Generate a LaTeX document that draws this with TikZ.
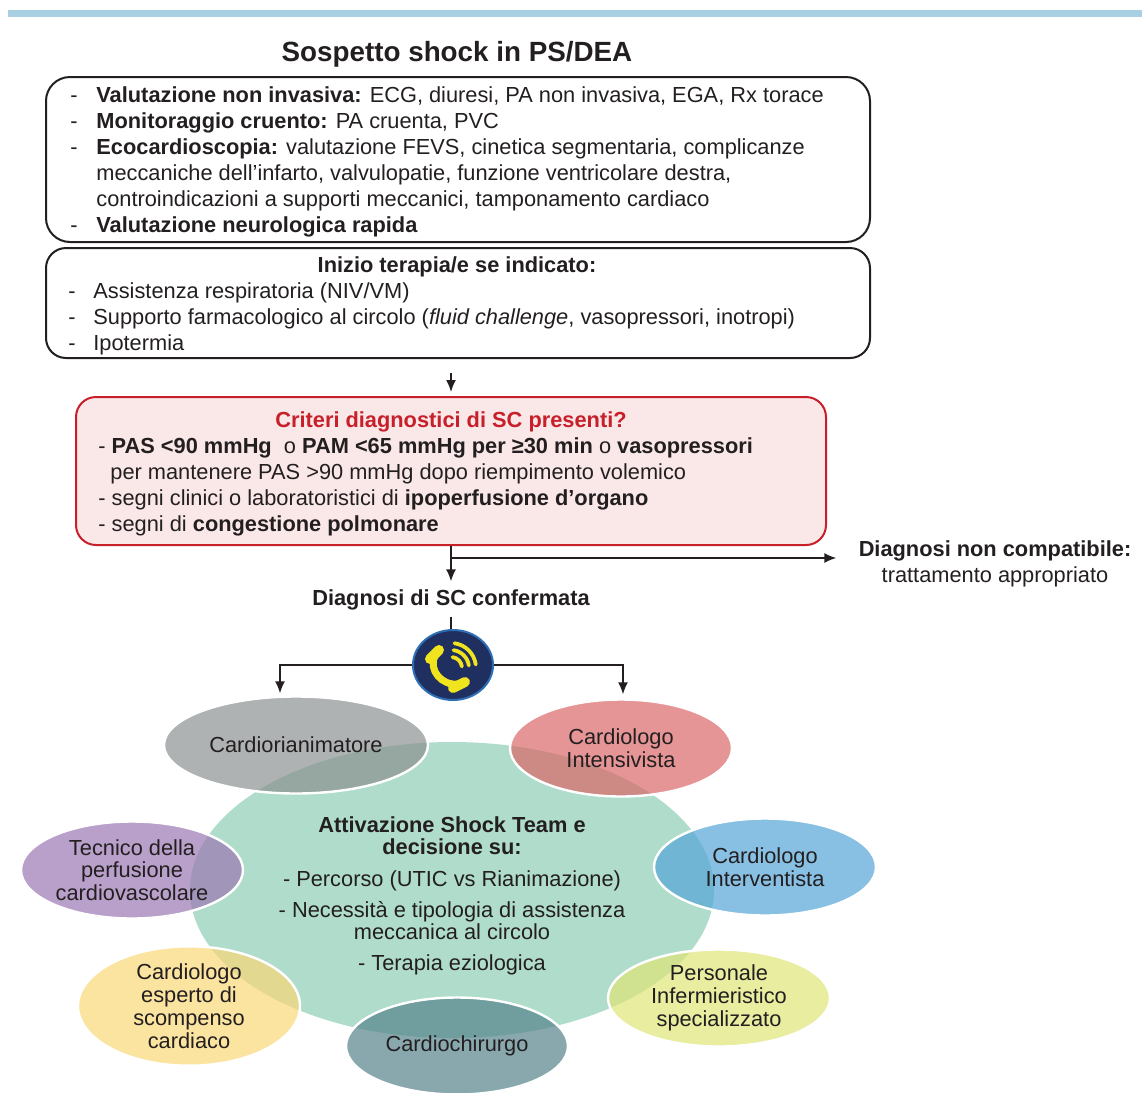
\documentclass[tikz,border=0pt]{standalone}
\usepackage{fontspec}
\setmainfont{Liberation Sans}
\usetikzlibrary{arrows,arrows.meta,shapes.geometric}
\definecolor{ink}{RGB}{35,31,32}
\definecolor{topbar}{RGB}{168,208,226}
\definecolor{critred}{RGB}{200,32,42}
\definecolor{critfill}{RGB}{250,232,232}
\definecolor{navy}{RGB}{31,48,96}
\definecolor{phoneblue}{RGB}{46,110,180}
\definecolor{phoneyellow}{RGB}{240,228,30}
\definecolor{teamgreen}{RGB}{176,220,203}
\definecolor{cgray}{RGB}{139,145,145}
\definecolor{cpink}{RGB}{218,104,104}
\definecolor{cblue}{RGB}{85,165,216}
\definecolor{clime}{RGB}{222,229,119}
\definecolor{cteal}{RGB}{85,131,139}
\definecolor{cyellow}{RGB}{249,215,119}
\definecolor{cpurple}{RGB}{155,119,179}
\newcommand{\dashline}[1]{\makebox[#1][l]{-}}
\begin{document}
\begin{tikzpicture}[x=0.5pt,y=-0.5pt]
			\tikzstyle{txt} = [inner sep = 0pt, text = ink, font = \fontsize{10.9}{13}\selectfont]
			\tikzstyle{panel} = [draw = ink, line width = 1pt, minimum width = 412pt]
			\tikzstyle{member} = [
				ellipse, draw = white, line width = 1.2pt, fill opacity = 0.7,
				text opacity = 1, text = ink, align = center, inner sep = 0pt,
				minimum width = 111pt, minimum height = 48.5pt,
				font = \fontsize{10.9}{11.4}\selectfont
			]
			\tikzstyle{line}=[draw=ink,line width=0.8pt,>={Latex[length=6pt,width=5pt]}]
			\useasboundingbox (0,0) rectangle (1142,1093);
			\fill[topbar] (8,10) rectangle (1142,17);
			\node[txt, font = \fontsize{13.9}{16}\selectfont\bfseries] (title) at (457,54) {Sospetto shock in PS/DEA};
			% valutazione
			\node[panel, rounded corners = 12pt, minimum height = 82.5pt] (eval) at (458,159.5) {};
			\node[txt, anchor = west, align = left] (evaltxt) at (70,162) {%
				\dashline{13pt}\textbf{Valutazione non invasiva:} ECG, diuresi, PA non invasiva, EGA, Rx torace\\
				\dashline{13pt}\textbf{Monitoraggio cruento:} PA cruenta, PVC\\
				\dashline{13pt}\textbf{Ecocardioscopia:} valutazione FEVS, cinetica segmentaria, complicanze\\
				\hspace*{13pt}meccaniche dell’infarto, valvulopatie, funzione ventricolare destra,\\
				\hspace*{13pt}controindicazioni a supporti meccanici, tamponamento cardiaco\\
				\dashline{13pt}\textbf{Valutazione neurologica rapida}};
			% terapia
			\node[panel, rounded corners = 10pt, minimum height = 55pt] (ther) at (458,303) {};
			\node[txt, font = \fontsize{10.9}{13}\selectfont\bfseries] (thertitle) at (457,267) {Inizio terapia/e se indicato:};
			\node[txt, anchor = west, align = left] (thertxt) at (68,319) {%
				\dashline{12.5pt}Assistenza respiratoria (NIV/VM)\\
				\dashline{12.5pt}Supporto farmacologico al circolo (\textit{fluid challenge}, vasopressori, inotropi)\\
				\dashline{12.5pt}Ipotermia};
			% criteri
			\node[draw = critred, fill = critfill, line width = 1pt, rounded corners = 10pt,
				minimum width = 375pt, minimum height = 74pt] (crit) at (451,471) {};
			\node[txt, text = critred, font = \fontsize{10.9}{13}\selectfont\bfseries] (crittitle) at (451,422) {Criteri diagnostici di SC presenti?};
			\node[txt, anchor = west, align = left] (crittxt) at (98,487) {%
				- \textbf{PAS <90 mmHg}\ \ o \textbf{PAM <65 mmHg per ≥30 min} o \textbf{vasopressori}\\
				\hspace*{6pt}per mantenere PAS >90 mmHg dopo riempimento volemico\\
				- segni clinici o laboratoristici di \textbf{ipoperfusione d’organo}\\
				- segni di \textbf{congestione polmonare}};
			\node[txt, font = \fontsize{10.9}{13}\selectfont\bfseries] (confirm) at (451,600) {Diagnosi di SC confermata};
			\node[txt, align = center] (nocomp) at (995,564) {\textbf{Diagnosi non compatibile:}\\trattamento appropriato};
			\coordinate (fork) at (451,558);
			\draw[line,->] (ther.south -| crit.north) -- (crit.north) [shorten <=7pt, shorten >=2pt];
			\draw[line,->] (crit.south) -- (confirm.north) [shorten >=4pt];
			\draw[line,->] (fork) -- (fork -| nocomp.west) [shorten >=11pt];
			% telefono
			\node[ellipse, fill = navy, draw = phoneblue, line width = 1pt,
				minimum width = 40pt, minimum height = 35pt] (phone) at (453,665) {};
			\draw[line] (confirm.south) [shorten <=3pt] -- (confirm.south |- phone.north);
			\draw[phoneyellow, line width = 3.5pt, line cap = round] (435,656) .. controls (428,670) and (442,686) .. (458,684);
			\draw[phoneyellow, line width = 5pt, line cap = round] (430,659) -- (439,650);
			\draw[phoneyellow, line width = 5pt, line cap = round] (453,688) -- (465,682);
			\foreach \r in {11,18,25}
				\draw[phoneyellow, line width = 1.9pt, line cap = round] (451,668) ++(-82:\r) arc[start angle = -82, end angle = -8, radius = \r];
			% shock team
			\node[ellipse, fill = teamgreen, minimum width = 262pt, minimum height = 148pt] (team) at (452,890) {};
			\node[txt, align = center, font = \fontsize{10.9}{11}\selectfont] (teamtxt) at (452,896) {%
				\textbf{Attivazione Shock Team e}\\ \textbf{decisione su:}\\[5pt]
				- Percorso (UTIC vs Rianimazione)\\[4.5pt]
				- Necessità e tipologia di assistenza\\ meccanica al circolo\\[4.5pt]
				- Terapia eziologica};
			\node[member, fill = cgray, minimum width = 132pt] (rian) at (296,745) {Cardiorianimatore};
			\node[member, fill = cpink] (inten) at (621,748) {Cardiologo\\Intensivista};
			\node[member, fill = cblue] (interv) at (765,867) {Cardiologo\\Interventista};
			\node[member, fill = clime] (nurse) at (719,998) {Personale\\Infermieristico\\specializzato};
			\node[member, fill = cteal] (surg) at (457,1046) {Cardiochirurgo};
			\node[member, fill = cyellow] (hf) at (189,1006) {Cardiologo\\esperto di\\scompenso\\cardiaco};
			\node[member, fill = cpurple] (perf) at (132,870) {Tecnico della\\perfusione\\cardiovascolare};
			\draw[line,->] (phone.west) -| ([xshift=-8pt]rian.north) [shorten >=1pt];
			\draw[line,->] (phone.east) -| ([xshift=1pt]inten.north) [shorten >=2pt];
		\end{tikzpicture}
\end{document}
